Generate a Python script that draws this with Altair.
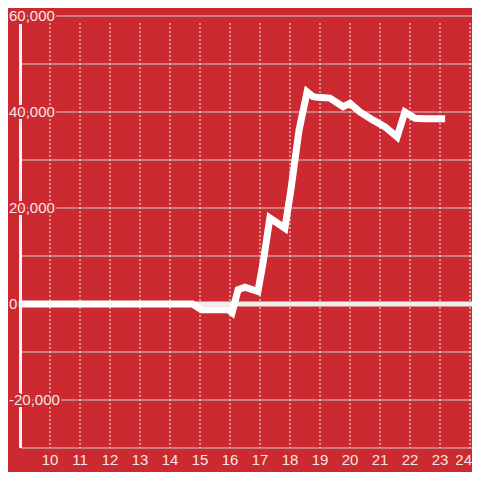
import altair as alt
import pandas as pd

# data
hours = [9.0, 14.75, 15.05, 15.95, 16.07, 16.27, 16.5, 16.93, 17.1, 17.33, 17.83,
         18.03, 18.3, 18.57, 18.77, 19.0, 19.33, 19.77, 20.0, 20.33, 20.77, 21.17,
         21.57, 21.83, 22.17, 22.5, 23.17]
values = [0, 0, -1200, -1200, -1800, 3000, 3500, 2600, 8500, 17900, 15800,
          23800, 36200, 44200, 43200, 43000, 42900, 41100, 41800, 40000, 38300, 36900,
          34800, 40000, 38700, 38600, 38600]
x_ticks = list(range(10, 25))
y_grid = list(range(-30000, 60001, 10000))
y_label_values = [-20000, 0, 20000, 40000, 60000]
y_label_text = [f"{v:,}" for v in y_label_values]

BG = "#cc2a30"
LABEL = "#f5e6e6"
FONT = "Arial, Liberation Sans, sans-serif"
FS = 15
W = 452

xs = alt.Scale(domain=[9, 9 + W / 30], nice=False, zero=False)
ys = alt.Scale(domain=[-30000, 60000], nice=False, zero=False)

df_line = pd.DataFrame({"hour": hours, "value": values})
df_hgrid = pd.DataFrame({"y": y_grid})
df_vgrid = pd.DataFrame({"x": x_ticks})
df_xlab = pd.DataFrame({"x": x_ticks[:-1]})
df_xlab_last = pd.DataFrame({"x": x_ticks[-1:]})
df_zero = pd.DataFrame({"y": [0]})
df_lab = pd.DataFrame({"y": y_label_values, "t": y_label_text})

hgrid = alt.Chart(df_hgrid).mark_rule(color="#cccccc", strokeWidth=1.2).encode(
    y=alt.Y("y:Q", scale=ys, axis=None),
    x=alt.value(1), x2=alt.value(W),
)

vgrid = alt.Chart(df_vgrid).mark_rule(color="#ececec", strokeWidth=1, strokeDash=[2, 2]).encode(
    x=alt.X("x:Q", scale=xs, axis=None),
    y=alt.value(7), y2=alt.value(432),
)

xlabels = alt.Chart(df_xlab).mark_text(
    align="center", baseline="top", fontSize=FS, font=FONT, color=LABEL,
).encode(
    x=alt.X("x:Q", scale=xs, axis=None),
    y=alt.value(437),
    text=alt.Text("x:Q", format="d"),
)

xlabel_last = alt.Chart(df_xlab_last).mark_text(
    align="right", baseline="top", fontSize=FS, font=FONT, color=LABEL, dx=2,
).encode(
    x=alt.X("x:Q", scale=xs, axis=None),
    y=alt.value(437),
    text=alt.Text("x:Q", format="d"),
)

zero = alt.Chart(df_zero).mark_rule(color="#eeeeee", strokeWidth=5).encode(
    y=alt.Y("y:Q", scale=ys, axis=None),
    x=alt.value(-3), x2=alt.value(W),
)

yline = alt.Chart(df_zero).mark_rule(color="#f2f2f2", strokeWidth=3).encode(
    x=alt.value(0.5), y=alt.value(8), y2=alt.value(432),
)

line = alt.Chart(df_line).mark_line(color="white", strokeWidth=7, strokeCap="butt").encode(
    x=alt.X("hour:Q", scale=xs, axis=None),
    y=alt.Y("value:Q", scale=ys, axis=None),
)

halo = alt.Chart(df_lab).mark_text(
    align="left", baseline="middle", fontSize=FS, font=FONT,
    color=BG, stroke=BG, strokeWidth=4, strokeJoin="round",
).encode(
    y=alt.Y("y:Q", scale=ys, axis=None), x=alt.value(-11), text="t:N",
)

labels = alt.Chart(df_lab).mark_text(
    align="left", baseline="middle", fontSize=FS, font=FONT, color=LABEL,
).encode(
    y=alt.Y("y:Q", scale=ys, axis=None), x=alt.value(-11), text="t:N",
)

chart = alt.layer(hgrid, vgrid, xlabels, xlabel_last, zero, yline, line, halo, labels).properties(
    width=W, height=432,
    autosize=alt.AutoSizeParams(type="none"),
    padding={"left": 12, "top": 8, "right": 0, "bottom": 24},
    background=BG,
).configure_view(stroke=None)

chart.save("out.html", embed_options={"renderer": "svg", "actions": False})
